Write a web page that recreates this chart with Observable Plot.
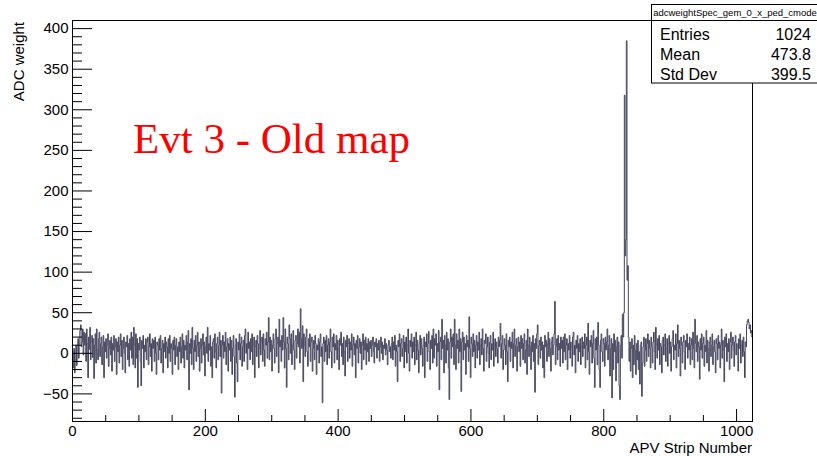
<!DOCTYPE html>
<html><head><meta charset="utf-8">
<script src="https://cdn.jsdelivr.net/npm/d3@7"></script>
<script src="https://cdn.jsdelivr.net/npm/@observablehq/plot@0.6"></script>
<style>
body{margin:0;background:#fff}
#chart{position:relative;width:817px;height:456px}
</style>
</head><body><div id="chart"></div>
<script>
// ADC weight per APV strip (bins 0..1023) in blocks of 128 strips
const block0 = [
2,-18,6,-24,-8,10,-15,4,18,-6,12,28,35,8,14,30,-2,26,10,24,-10,30,12,-30,20,5,32,-8,14,22,-5,18,
-31,10,24,-12,30,5,-8,18,26,-4,12,20,-14,8,22,-30,14,2,18,-6,10,24,-16,6,16,-2,20,-22,12,4,22,-10,
8,18,-26,14,2,20,-12,10,24,-4,16,-20,6,20,0,-24,14,8,22,-8,12,-16,18,4,26,-6,20,-14,32,10,-18,24,
-6,18,-42,12,4,20,-10,-40,16,6,22,-18,10,2,18,-8,14,20,-14,8,24,-4,12,-22,18,6,16,-10,20,0,-26,14];
const block1 = [
10,-8,18,4,22,-12,6,16,-24,12,2,20,-6,14,8,-18,18,0,22,-10,12,6,-26,16,4,20,-14,10,18,-4,8,-20,
14,2,20,-12,8,24,-6,16,-18,10,4,22,-8,14,28,-45,12,0,18,-14,32,6,-20,16,2,22,-10,10,26,-4,14,-22,
6,18,-12,10,24,-2,14,-28,8,20,0,32,-10,12,4,22,-16,8,-30,14,18,-6,24,2,-18,12,20,-8,10,26,-4,16,
-49,10,22,-6,14,2,26,-14,8,18,-22,12,4,20,-10,16,-26,6,22,-4,-54,10,18,-12,-35,14,4,24,-8,12,20,-16];
const block2 = [
8,16,-10,22,30,0,12,-20,26,6,14,-8,18,2,24,-14,10,20,-30,8,16,-4,22,12,-18,6,28,-2,14,20,-10,24,
4,-16,18,10,26,-6,14,44,-8,20,2,16,-22,10,24,6,-12,18,30,-4,12,20,-24,42,8,16,-10,22,4,44,14,-18,
30,6,-42,20,12,-8,35,18,0,24,-14,10,28,4,-20,16,22,-6,12,30,8,26,-12,55,18,6,34,-35,24,10,-4,20,
30,2,-16,18,8,24,-10,14,20,-22,6,16,-8,22,12,-26,10,4,18,-12,14,24,-4,8,-61,12,20,-10,16,2,22,-14];
const block3 = [
10,18,-6,14,30,2,-18,20,8,24,-12,12,4,22,-8,16,6,-20,18,10,26,-4,12,-14,20,2,-28,16,8,22,-10,12,
18,-6,14,4,24,-16,10,20,-2,12,-30,16,6,22,-12,8,18,0,14,-20,10,24,-8,16,4,20,-14,12,2,18,-10,14,
6,16,-4,10,20,2,-12,14,8,18,-6,12,4,16,-10,8,20,0,14,-8,10,6,18,-2,12,4,-14,10,16,2,8,-6,
12,20,-8,14,4,22,-16,10,2,-35,16,8,24,-10,12,18,-4,6,22,-18,14,2,20,-12,10,30,0,-22,16,8,24,-6];
const block4 = [
14,2,20,-14,10,26,-8,16,4,-24,12,22,-2,18,6,-16,10,20,-30,14,8,24,-10,12,27,2,-20,16,6,22,-12,30,
-6,18,10,24,-16,12,2,28,-45,14,20,-8,42,6,16,-24,22,10,-12,26,4,18,-18,-57,14,30,-6,20,8,24,-14,42,
10,-20,24,6,16,-12,30,2,18,-47,14,26,-8,20,4,12,-26,22,8,16,-10,45,6,-30,20,12,-4,24,2,16,-18,10,
22,-6,14,4,26,-14,10,18,-2,30,6,-22,16,12,24,-10,8,20,0,-18,14,22,-8,12,4,26,-16,10,18,-4,14,6];
const block5 = [
-12,20,8,16,37,-6,12,22,-20,4,18,10,-14,24,2,-35,16,8,20,-10,14,6,26,-18,12,30,-4,10,18,-22,8,20,
2,14,-16,22,6,18,-8,12,24,-12,4,16,-26,30,10,-4,20,8,-20,14,2,22,-10,12,-48,18,6,24,35,-14,10,16,
-6,20,4,14,-18,10,-30,22,8,16,-10,12,26,-4,18,6,-22,14,20,-2,10,24,64,-14,8,18,-8,22,4,12,-16,20,
6,16,-12,20,2,24,-8,10,18,-20,12,4,22,-6,14,8,-16,20,26,-2,10,-24,16,6,22,-10,12,2,18,-14,8,20];
const block6 = [
-4,14,6,24,-18,10,20,-8,37,2,-26,16,8,22,-12,12,28,-6,-42,18,4,20,-14,38,10,-20,-42,16,24,2,-10,18,
12,-16,20,4,14,30,-8,10,22,-28,6,18,-55,12,-20,24,2,16,-34,8,20,-12,14,-40,-57,10,22,-6,48,20,50,318,
120,140,385,90,108,20,-10,14,-22,6,18,-30,10,-14,22,4,-26,12,-8,16,-20,2,-38,10,14,-53,-12,8,20,-16,4,18,
-10,12,24,-4,16,6,-18,20,8,-12,14,26,2,-20,32,10,-6,18,4,22,-14,12,8,-24,16,20,-2,10,24,-10,6,18];
const block7 = [
-16,12,22,0,14,-22,8,18,28,-8,10,4,24,-18,12,35,-4,16,6,-28,20,10,-12,14,22,2,-20,16,8,24,-6,12,
4,20,-14,10,18,-8,26,6,-18,42,12,2,22,-10,14,8,-32,18,4,24,-6,12,20,-16,10,2,28,-12,16,6,-22,14,
20,-4,10,24,-14,8,16,2,-24,18,12,-8,22,6,14,-18,10,30,-6,16,4,-35,20,8,24,-10,12,2,18,-20,14,26,
-6,10,20,4,-16,14,22,-2,12,8,-22,18,6,24,-12,10,16,-4,20,2,-30,14,8,35,40,42,38,30,35,25,28,20];

const yMajorTicks = [-50, 0, 50, 100, 150, 200, 250, 300, 350, 400];
const yMinorTicks = d3.range(-80, 401, 10).filter(v => v % 50 !== 0);
const xMajorTicks = [0, 200, 400, 600, 800, 1000];
const xMinorTicks = [50, 100, 150, 250, 300, 350, 450, 500, 550, 650, 700, 750, 850, 900, 950];
const statLabels = ["Entries", "Mean", "Std Dev"];
const statValues = ["1024", "473.8", "399.5"];
const histName = "adcweightSpec_gem_0_x_ped_cmode";
const annotation = "Evt 3 - Old map";

const weights = [].concat(block0, block1, block2, block3, block4, block5, block6, block7);
const bins = weights.map((w, i) => ({strip: i, w}));
bins.push({strip: weights.length, w: weights[weights.length - 1]});

const W = 817, H = 456, mL = 72, mR = 65, mT = 20, mB = 35;
const xDomain = [0, 1024], yDomain = [-84, 410];
const pxX = (W - mL - mR) / (xDomain[1] - xDomain[0]);
const pxY = (H - mT - mB) / (yDomain[1] - yDomain[0]);
const minus = d => d < 0 ? "\u2212" + Math.abs(d) : String(d);

const chart = Plot.plot({
  width: W, height: H,
  marginLeft: mL, marginRight: mR, marginTop: mT, marginBottom: mB,
  x: {domain: xDomain},
  y: {domain: yDomain},
  style: {fontFamily: "'Liberation Sans', Arial, sans-serif", fontSize: "15px", background: "#fff", color: "#000", overflow: "visible"},
  marks: [
    Plot.line(bins, {x: "strip", y: "w", curve: "step-after", stroke: "#46465f", strokeWidth: 1}),
    Plot.ruleY(yMajorTicks, {y: d => d, x1: 0, x2: 20 / pxX, stroke: "#000"}),
    Plot.ruleY(yMinorTicks, {y: d => d, x1: 0, x2: 10 / pxX, stroke: "#000"}),
    Plot.ruleX(xMajorTicks, {x: d => d, y1: yDomain[0], y2: yDomain[0] + 12 / pxY, stroke: "#000"}),
    Plot.ruleX(xMinorTicks, {x: d => d, y1: yDomain[0], y2: yDomain[0] + 6 / pxY, stroke: "#000"}),
    Plot.axisY({ticks: yMajorTicks, tickSize: 0, tickPadding: 4, tickFormat: minus, label: null}),
    Plot.axisX({ticks: xMajorTicks, tickSize: 0, tickPadding: 4, tickFormat: minus, label: null}),
    Plot.frame({stroke: "#000"})
  ]
});
document.getElementById("chart").appendChild(chart);

const svg = d3.select(chart);
// axis titles
svg.append("text").attr("transform", "translate(24,22) rotate(-90)")
  .attr("text-anchor", "end").attr("font-size", 15).attr("fill", "#000").text("ADC weight");
svg.append("text").attr("x", 752).attr("y", 453)
  .attr("text-anchor", "end").attr("font-size", 15).attr("fill", "#000").text("APV Strip Number");
// red annotation
svg.append("text").attr("x", 133).attr("y", 153).attr("text-anchor", "start")
  .attr("font-family", "'Liberation Serif', 'Times New Roman', serif")
  .attr("font-size", 43).attr("fill", "#ff0000").text(annotation);
// stats box
const box = svg.append("g");
box.append("rect").attr("x", 651.5).attr("y", 4.5).attr("width", 175).attr("height", 78.5)
  .attr("fill", "#fff").attr("stroke", "#000").attr("stroke-width", 1);
box.append("line").attr("x1", 651.5).attr("x2", 830).attr("y1", 20.5).attr("y2", 20.5)
  .attr("stroke", "#000");
box.append("text").attr("x", 735).attr("y", 16).attr("text-anchor", "middle")
  .attr("font-size", 9.5).attr("fill", "#000").text(histName);
statLabels.forEach((s, i) => {
  box.append("text").attr("x", 660).attr("y", 39.5 + i * 20).attr("text-anchor", "start")
    .attr("font-size", 16).attr("fill", "#000").text(s);
  box.append("text").attr("x", 811).attr("y", 39.5 + i * 20).attr("text-anchor", "end")
    .attr("font-size", 16).attr("fill", "#000").text(statValues[i]);
});
</script></body></html>
